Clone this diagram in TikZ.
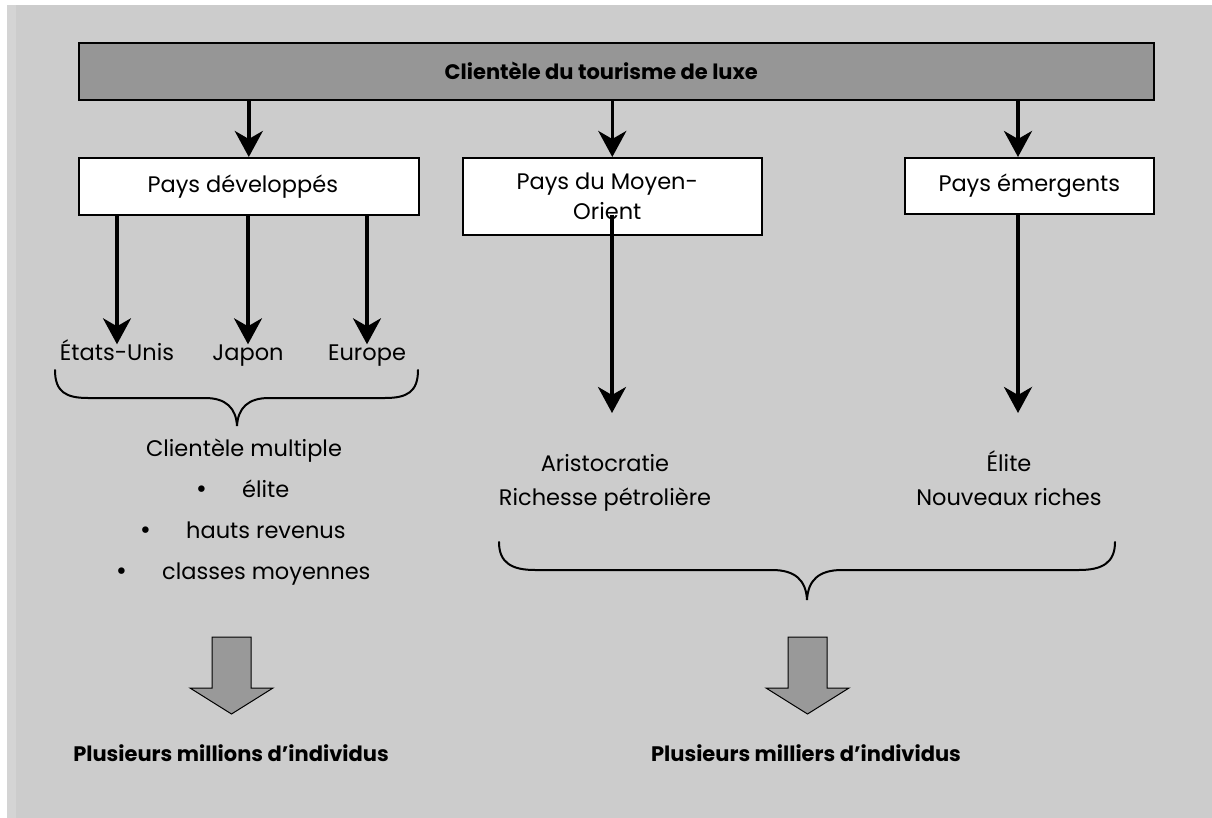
\documentclass[tikz,border=0pt]{standalone}
\usepackage{fontspec}
\setmainfont{Poppins}
\newfontfamily\bulletfont{DejaVu Sans}
\usetikzlibrary{arrows.meta}
\definecolor{panel}{HTML}{CCCCCC}
\definecolor{strip}{HTML}{D4D4D4}
\definecolor{barfill}{HTML}{969696}
\definecolor{blockfill}{HTML}{999999}
\newcommand{\bul}{\llap{{\bulletfont •}\hspace{34pt}}}
\begin{document}
\begin{tikzpicture}[x=1pt,y=-1pt,
  box/.style={draw=black, line width=1.6pt, fill=white, inner sep=0pt, anchor=north west, font=\fontsize{22.5}{30}\selectfont, align=center},
  lbl/.style={font=\fontsize{22.5}{27}\selectfont, inner sep=0pt, text height=16pt, text depth=5pt},
  btxt/.style={font=\bfseries\fontsize{21}{25}\selectfont, inner sep=0pt},
  arr/.style={line width=3.5pt, -{Stealth[length=26pt,width=28pt,inset=8pt]}},
  brc/.style={line width=2pt, line cap=round},
  blk/.style={draw=black, line width=1pt, fill=blockfill, line join=miter}]
\useasboundingbox (0,0) rectangle (1212,818);
\fill[white] (0,0) rectangle (1212,818);
\fill[panel] (7,5) rectangle (1212,818);
\fill[strip] (7,5) rectangle (16,818);

% top bar
\node[box, fill=barfill, minimum width=1075pt, minimum height=57pt,
  label={[btxt, xshift=-15pt]center:Clientèle du tourisme de luxe}] (bar) at (78,42) {};

% boxes
\node[box, minimum width=340pt, minimum height=57pt] (b1) at (78,157) {\hspace*{-12pt}Pays développés};
\node[box, minimum width=299pt, minimum height=77pt] (b2) at (462,157) {\hspace*{-10pt}Pays du Moyen-\\\hspace*{-10pt}Orient};
\node[box, minimum width=249pt, minimum height=56pt] (b3) at (904,157) {Pays émergents};

% arrows from bar
\draw[arr] (bar.south -| b1.north) -- (b1.north);
\draw[arr] (bar.south -| b2.north) -- (b2.north);
\coordinate (c3) at (1018,157);
\draw[arr] (bar.south -| c3) -- (c3);

% developed countries
\node[lbl] (usa) at (117,355) {États-Unis};
\node[lbl] (jap) at (248,355) {Japon};
\node[lbl] (eur) at (367,355) {Europe};
\draw[arr] (b1.south -| usa.north) -- (usa.north);
\draw[arr] (b1.south -| jap.north) -- (jap.north);
\draw[arr] (b1.south -| eur.north) -- (eur.north);

% left brace
\draw[brc] (55,370) .. controls (55,392) and (66,398) .. (88,398)
  -- (205,398) .. controls (226,398) and (236,408) .. (237,426)
  .. controls (238,408) and (248,398) .. (269,398)
  -- (385,398) .. controls (407,398) and (418,392) .. (418,370);

\node[lbl] (cm) at (244,451) {Clientèle multiple};
\node[lbl, anchor=west] (l1) at (242,492) {\bul élite};
\node[lbl, anchor=west] (l2) at (186,533) {\bul hauts revenus};
\node[lbl, anchor=west] (l3) at (162,574) {\bul classes moyennes};

% middle and right columns
\node[lbl] (ari) at (605,466) {Aristocratie};
\node[lbl] (ric) at (605,500) {Richesse pétrolière};
\node[lbl] (eli) at (1009,466) {Élite};
\node[lbl] (nou) at (1009,500) {Nouveaux riches};
\coordinate (m1) at (612,413);
\coordinate (m2) at (1018,413);
\draw[arr] ([yshift=21pt]b2.south -| m1) -- (m1);
\draw[arr] (b3.south -| m2) -- (m2);

% big brace
\draw[brc] (499,542) .. controls (499,563) and (512,570) .. (535,570)
  -- (772,570) .. controls (795,570) and (806,580) .. (807,600)
  .. controls (808,580) and (819,570) .. (842,570)
  -- (1079,570) .. controls (1102,570) and (1115,563) .. (1115,542);

% block arrows
\draw[blk] (212,637) -- (251,637) -- (251,688) -- (273,688) -- (231.5,714) -- (190,688) -- (212,688) -- cycle;
\draw[blk] (788,637) -- (827,637) -- (827,688) -- (849,688) -- (807.5,714) -- (766,688) -- (788,688) -- cycle;

% bottom labels
\node[btxt] (pm) at (231,753) {Plusieurs millions d’individus};
\node[btxt] (pk) at (806,753) {Plusieurs milliers d’individus};
\end{tikzpicture}
\end{document}
